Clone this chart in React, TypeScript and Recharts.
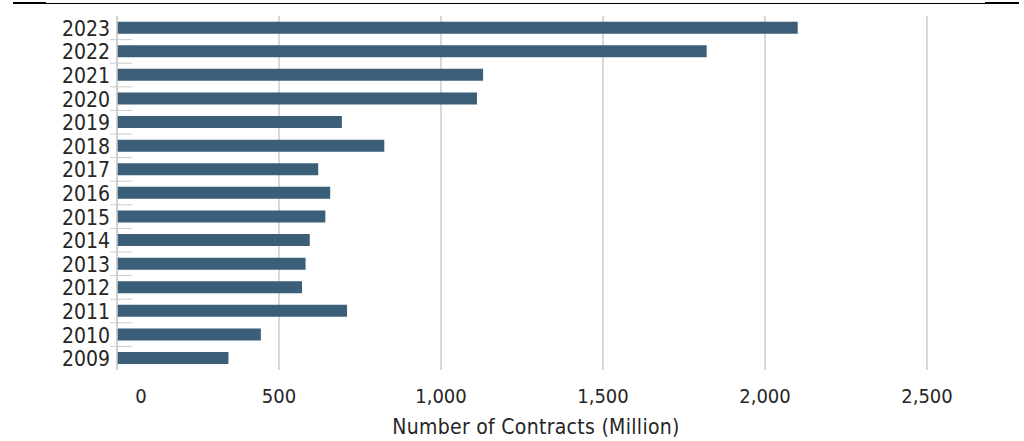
import React from 'react';
import { BarChart, Bar, XAxis, YAxis, CartesianGrid, Label } from 'recharts';

const YEARS = ['2009', '2010', '2011', '2012', '2013', '2014', '2015', '2016', '2017', '2018', '2019', '2020', '2021', '2022', '2023'];
const CONTRACTS = [344, 444, 710, 571, 582, 595, 643, 658, 621, 825, 694, 1111, 1130, 1820, 2101];
const X_TICKS = [0, 500, 1000, 1500, 2000, 2500];

const FONT = '"DejaVu Sans Condensed", "Liberation Sans Narrow", sans-serif';
const TEXT = '#262626';
const BAR = '#3b5f78';
const GRID = '#cccccc';

const chartData = YEARS.map((year, i) => ({ year, value: CONTRACTS[i] }));

const YearTick = (props: any) => {
  const { x, y, payload } = props;
  const half = payload.offset || 11.8;
  return (
    <g>
      {payload.value !== '2023' && (
        <line x1={110} x2={132} y1={y - half} y2={y - half} stroke={GRID} strokeWidth={1} />
      )}
      <text x={x + 1} y={y} dy={8} textAnchor="end" fill={TEXT} fontSize={21} fontFamily={FONT}>
        {payload.value}
      </text>
    </g>
  );
};

const ValueTick = (props: any) => {
  const { x, y, payload } = props;
  const shift = payload.value === 0 ? 24 : 0;
  return (
    <text x={x + shift} y={y} dy={25} textAnchor="middle" fill={TEXT} fontSize={20} fontFamily={FONT}>
      {Number(payload.value).toLocaleString('en-US')}
    </text>
  );
};

export default function App() {
  return (
    <div style={{ position: 'fixed', left: 0, top: 0, width: 1024, height: 441, background: '#fff' }}>
      {/* top rule with heavier ends */}
      <div style={{ position: 'absolute', left: 13, right: 5, top: 3, height: 1, background: '#000' }} />
      <div style={{ position: 'absolute', left: 13, width: 33, top: 2, height: 2, background: '#000' }} />
      <div style={{ position: 'absolute', left: 985, width: 34, top: 2, height: 2, background: '#000' }} />
      <BarChart
        width={1024}
        height={441}
        data={chartData}
        layout="vertical"
        margin={{ top: 16, right: 97, bottom: 0, left: 0 }}
        barCategoryGap="24%"
      >
        <CartesianGrid horizontal={false} stroke={GRID} strokeWidth={1.5} />
        <XAxis
          type="number"
          domain={[0, 2500]}
          ticks={X_TICKS}
          height={71}
          axisLine={false}
          tickLine={false}
          tick={<ValueTick />}
          interval={0}
        >
          <Label
            value="Number of Contracts (Million)"
            position="insideBottom"
            offset={7}
            dx={14}
            fill={TEXT}
            fontSize={21}
            letterSpacing={0.3}
            fontFamily={FONT}
          />
        </XAxis>
        <YAxis
          type="category"
          dataKey="year"
          reversed
          width={117}
          axisLine={{ stroke: GRID, strokeWidth: 1.5 }}
          tickLine={false}
          tick={<YearTick />}
          interval={0}
        />
        <Bar dataKey="value" fill={BAR} isAnimationActive={false} />
      </BarChart>
    </div>
  );
}
